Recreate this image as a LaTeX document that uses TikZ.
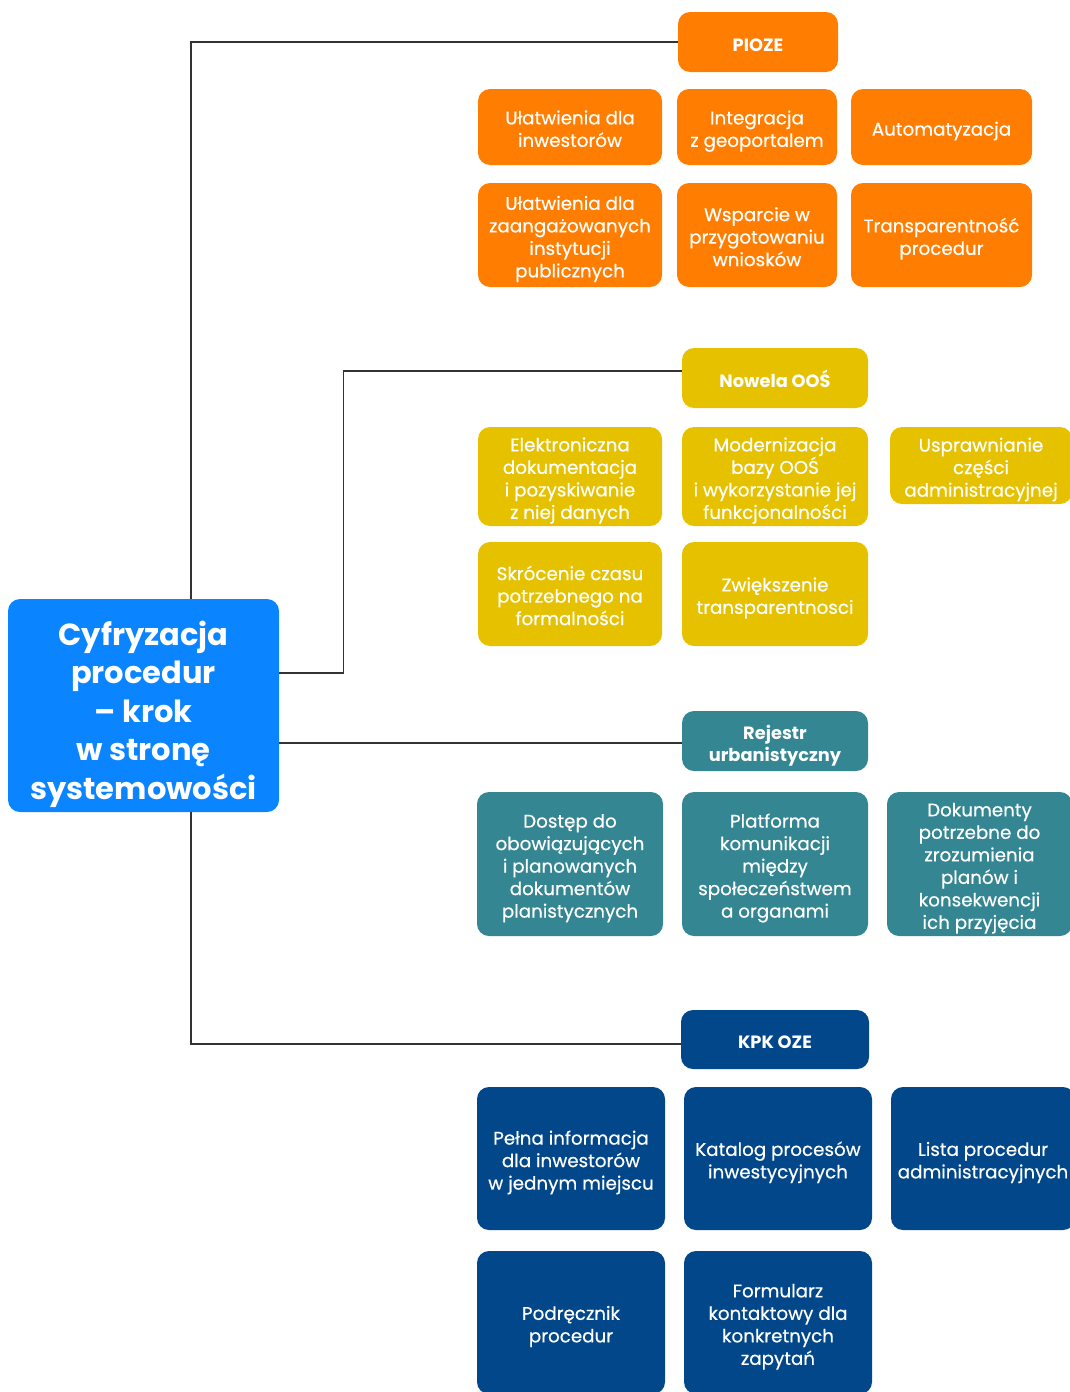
\documentclass[tikz,border=0pt]{standalone}
\usepackage{fontspec}
\setmainfont{Poppins}
\newfontfamily\bodyfont{Poppins}[FakeBold=0.5]
\usetikzlibrary{positioning}

\definecolor{piozeorange}{HTML}{FF7D00}
\definecolor{oosyellow}{HTML}{E6C100}
\definecolor{rejteal}{HTML}{338692}
\definecolor{kpknavy}{HTML}{024789}
\definecolor{rootblue}{HTML}{0A84FF}
\definecolor{linegray}{HTML}{333333}

% struts: height for the first line, depth for the last line of each box
\newcommand\cs{\rule{0pt}{22.7pt}}
\newcommand\hs{\rule{0pt}{23.5pt}}
\newcommand\ce{\rule[-5.5pt]{0pt}{5.5pt}}

\begin{document}
\begin{tikzpicture}[
  x=1pt, y=-1pt,
  box/.style={rounded corners=12pt, text=white, align=center, inner sep=0pt,
              font=\bodyfont\fontsize{18.3}{22.5}\selectfont},
  sz/.style 2 args={minimum width=#1pt, minimum height=#2pt},
  pbox/.style={box, fill=piozeorange},
  obox/.style={box, fill=oosyellow},
  rbox/.style={box, fill=rejteal},
  kbox/.style={box, fill=kpknavy},
  head/.style={font=\fontsize{17.8}{22}\selectfont\bfseries},
  root/.style={box, fill=rootblue, font=\fontsize{30.5}{38.5}\selectfont\bfseries},
  link/.style={draw=linegray, line width=1.2pt},
]
\useasboundingbox (0,0) rectangle (1070,1392);
\clip (0,0) rectangle (1070,1392);

% root
\node[root, sz={271}{213}] (main) at (143.5,705.5)
    {\rule{0pt}{42pt}Cyfryzacja\\procedur\\– krok\\w stronę\\systemowości};

% PIOZE
\node[pbox, head, sz={160}{60}] (pioze) at (758,42) {\hs PIOZE\ce};
\node[pbox, sz={184}{76}] (p1) at (570,127) {\cs Ułatwienia dla\\inwestorów\ce};
\node[pbox, sz={160}{76}] (p2) at (757,127) {\cs Integracja\\z geoportalem\ce};
\node[pbox, sz={181}{76}] (p3) at (941.5,127) {\cs Automatyzacja\ce};
\node[pbox, sz={184}{104}] (p4) at (570,235)
    {\cs Ułatwienia dla\\zaangażowanych\\instytucji\\publicznych\ce};
\node[pbox, sz={160}{104}] (p5) at (757,235)
    {\cs Wsparcie w\\przygotowaniu\\wniosków\ce};
\node[pbox, sz={181}{104}] (p6) at (941.5,235) {\cs Transparentność\\procedur\ce};

% Nowela OOS
\node[obox, head, sz={186}{60}] (oos) at (775,378) {\hs Nowela OOŚ\ce};
\node[obox, sz={184}{99}] (o1) at (570,476.5)
    {\cs Elektroniczna\\dokumentacja\\i pozyskiwanie\\z niej danych\ce};
\node[obox, sz={186}{99}] (o2) at (775,476.5)
    {\cs Modernizacja\\bazy OOŚ\\i wykorzystanie jej\\funkcjonalności\ce};
\node[obox, sz={182}{77}] (o3) at (981,465.5)
    {\cs Usprawnianie\\części\\administracyjnej\ce};
\node[obox, sz={184}{104}] (o4) at (570,594)
    {\cs Skrócenie czasu\\potrzebnego na\\formalności\ce};
\node[obox, sz={186}{104}] (o5) at (775,594) {\cs Zwiększenie\\transparentnosci\ce};

% Rejestr urbanistyczny
\node[rbox, head, sz={186}{60}] (rej) at (775,741)
    {\hs Rejestr\\urbanistyczny\ce};
\node[rbox, sz={186}{144}] (r1) at (570,864)
    {\cs Dostęp do\\obowiązujących\\i planowanych\\dokumentów\\planistycznych\ce};
\node[rbox, sz={186}{144}] (r2) at (775,864)
    {\cs Platforma\\komunikacji\\między\\społeczeństwem\\a organami\ce};
\node[rbox, sz={185}{144}] (r3) at (979.5,864)
    {\cs Dokumenty\\potrzebne do\\zrozumienia\\planów i\\konsekwencji\\ich przyjęcia\ce};

% KPK OZE
\node[kbox, head, sz={188}{59}] (kpk) at (775,1039.5) {\hs KPK OZE\ce};
\node[kbox, sz={188}{143}] (k1) at (571,1158.5)
    {\cs Pełna informacja\\dla inwestorów\\w jednym miejscu\ce};
\node[kbox, sz={188}{143}] (k2) at (778,1158.5) {\cs Katalog procesów\\inwestycyjnych\ce};
\node[kbox, sz={184}{143}] (k3) at (983,1158.5) {\cs Lista procedur\\administracyjnych\ce};
\node[kbox, sz={188}{143}] (k4) at (571,1322.5) {\cs Podręcznik\\procedur\ce};
\node[kbox, sz={188}{143}] (k5) at (778,1322.5)
    {\cs Formularz\\kontaktowy dla\\konkretnych\\zapytań\ce};

% connectors
\coordinate (jtop) at ([xshift=47.5pt]main.north);
\coordinate (jbot) at ([xshift=47.5pt]main.south);
\coordinate (joos) at ([yshift=32.5pt]main.east);
\coordinate (jrej) at ([yshift=-37.5pt]main.east);
\draw[link] (jtop) |- (pioze.west);
\draw[link] (joos) -- ++(64,0) |- ([yshift=7pt]oos.west);
\draw[link] (jrej) -- (jrej -| rej.west);
\draw[link] (jbot) |- ([yshift=-4.5pt]kpk.west);

\end{tikzpicture}
\end{document}
